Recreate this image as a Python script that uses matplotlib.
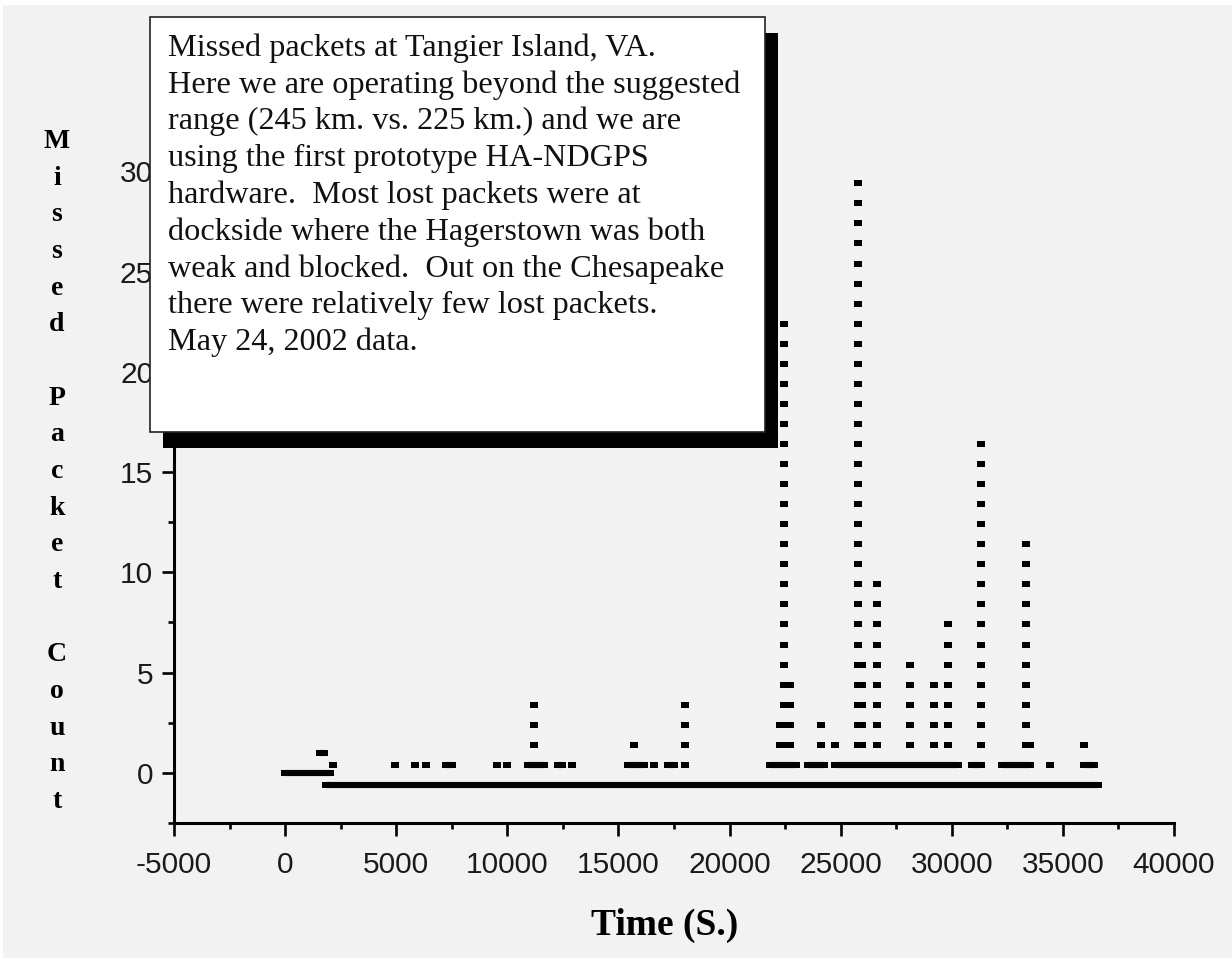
import numpy as np
import matplotlib
matplotlib.use("Agg")
import matplotlib.pyplot as plt
from matplotlib.patches import Rectangle
from matplotlib.ticker import MultipleLocator

plt.rcParams["axes.unicode_minus"] = False

# ---------------- data: time in seconds, consecutive missed-packet count ----------------
# first logging session
session1_received = (0, 2020)
session1_single_drops = [(1570, 1750)]

# second logging session
session2_received = (1830, 36570)
session2_single_drops = [
    (2160, 2160), (4950, 4950), (5850, 5850), (6340, 6340), (7240, 7510),
    (9540, 9540), (9990, 9990), (10930, 11650), (12290, 12470), (12910, 12910),
    (15430, 16150), (16600, 16600), (17230, 17500), (18000, 18000),
    (21820, 22990), (23530, 24250), (24790, 30280), (30910, 31270),
    (32260, 33520), (34420, 34420), (35960, 36410),
]
burst_times = [11200, 15700, 18000, 22280, 22460, 22720, 24120, 24750, 25780,
               25960, 26640, 28120, 29200, 29830, 31320, 33340, 33520, 35960]
burst_lengths = [4, 2, 4, 3, 23, 5, 3, 2, 30,
                 6, 10, 6, 5, 8, 17, 12, 2, 2]

x_ticks = [-5000, 0, 5000, 10000, 15000, 20000, 25000, 30000, 35000, 40000]
y_ticks = [0, 5, 10, 15, 20, 25, 30]

note_lines = [
    "Missed packets at Tangier Island, VA.",
    "Here we are operating beyond the suggested",
    "range (245 km. vs. 225 km.) and we are",
    "using the first prototype HA-NDGPS",
    "hardware.  Most lost packets were at",
    "dockside where the Hagerstown was both",
    "weak and blocked.  Out on the Chesapeake",
    "there were relatively few lost packets.",
    "May 24, 2002 data.",
]
y_title = "Missed Packet Count"
x_title = "Time (S.)"

# ---------------- figure ----------------
W, H = 1232, 958
BG = "#f2f2f2"
fig = plt.figure(figsize=(W / 100, H / 100), dpi=100, facecolor="white")
fig.add_artist(Rectangle((3 / W, 0), 1 - 3 / W, 1 - 5 / H, transform=fig.transFigure,
                         facecolor=BG, edgecolor="none", zorder=-10))

def fx(px):
    return px / W

def fy(py):
    return 1 - py / H

ax = fig.add_axes([fx(174), fy(823), 1000 / W, (823 - 71) / H])
ax.set_facecolor("none")
ax.set_xlim(-5000, 40000)
ax.set_ylim(-2.5, 35)

for s in ("top", "right"):
    ax.spines[s].set_visible(False)
for s in ("left", "bottom"):
    ax.spines[s].set_linewidth(2.2)
    ax.spines[s].set_capstyle("projecting")

ax.set_xticks(x_ticks)
ax.set_yticks(y_ticks)
ax.xaxis.set_minor_locator(MultipleLocator(2500))
ax.yaxis.set_minor_locator(MultipleLocator(2.5))
ax.tick_params(which="major", length=9, width=1.9, direction="out")
ax.tick_params(which="minor", length=4.5, width=1.9, direction="out")
ax.tick_params(axis="x", which="major", pad=11.5)
ax.tick_params(axis="y", which="major", pad=6)
for lab in ax.get_xticklabels() + ax.get_yticklabels():
    lab.set_fontfamily("Liberation Sans")
    lab.set_fontsize(21.5)
    lab.set_color("#1a1a1a")

# small rectangular marker, a little wider than tall
ratio = 0.74
rect = [(-1, -ratio), (1, -ratio), (1, ratio), (-1, ratio), (-1, -ratio)]
MS = 6.0

def draw_span(t0, t1, y):
    ax.plot([t0, t1], [y, y], color="black", lw=MS * ratio, solid_capstyle="butt",
            marker=rect, ms=MS, mew=0, mfc="black", clip_on=False, zorder=3)

# session 1 drawn at its true level, session 2 shifted down so both stay visible
off1, off2 = 0.0, -0.6
draw_span(*session1_received, 0 + off1)
for t0, t1 in session1_single_drops:
    draw_span(t0, t1, 1 + off1)

draw_span(*session2_received, 0 + off2)
for t0, t1 in session2_single_drops:
    draw_span(t0, t1, 1 + off2)
for t, n in zip(burst_times, burst_lengths):
    levels = np.arange(1, n + 1) + off2
    ax.plot(np.full(n, t), levels, ls="none", marker=rect, ms=MS, mew=0,
            mfc="black", clip_on=False, zorder=3)

# axis titles
fig.text(fx(665), fy(925), x_title, ha="center", va="center", fontsize=27,
         fontweight="bold", family="Liberation Serif")
step = (800 - 140) / (len(y_title) - 1)
for i, ch in enumerate(y_title):
    if ch != " ":
        fig.text(fx(57), fy(140 + i * step + 8), ch, ha="center", va="baseline",
                 fontsize=20, fontweight="bold", family="Liberation Serif")

# annotation box with drop shadow
bx0, by0, bx1, by1 = 150, 17, 765, 432
sdx, sdy = 13, 16
fig.add_artist(Rectangle((fx(bx0 + sdx), fy(by1 + sdy)), (bx1 - bx0) / W, (by1 - by0) / H,
                         transform=fig.transFigure, facecolor="black", edgecolor="none",
                         zorder=5))
fig.add_artist(Rectangle((fx(bx0), fy(by1)), (bx1 - bx0) / W, (by1 - by0) / H,
                         transform=fig.transFigure, facecolor="white", edgecolor="#222222",
                         linewidth=1.2, zorder=6))
for i, line in enumerate(note_lines):
    fig.text(fx(168), fy(56 + i * 36.75), line, ha="left", va="baseline", fontsize=23.2,
             family="Liberation Serif", color="#111111", zorder=7)

fig.savefig("out.png", dpi=100, facecolor=fig.get_facecolor())
